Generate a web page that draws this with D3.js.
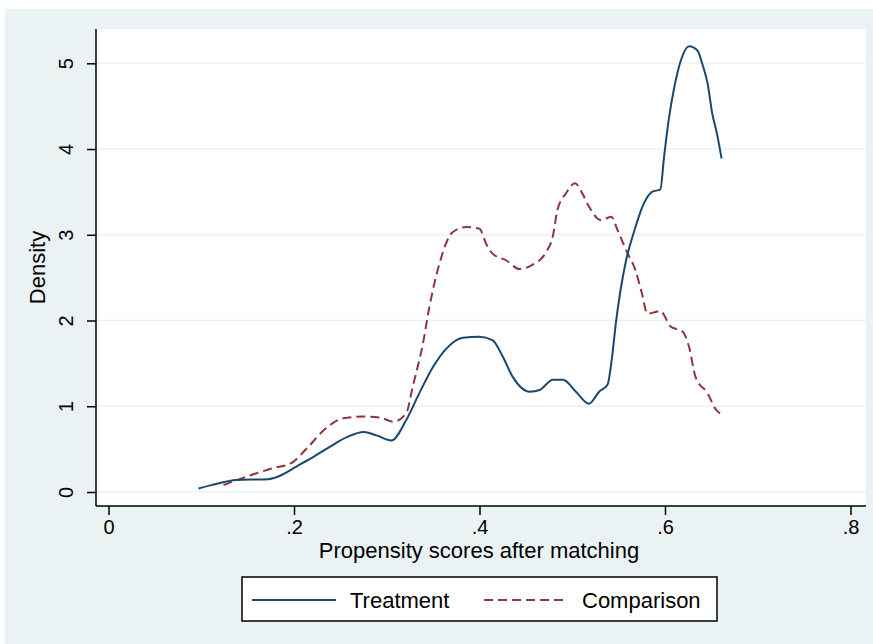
<!DOCTYPE html>
<html>
<head>
<meta charset="utf-8">
<script src="https://cdn.jsdelivr.net/npm/d3@7"></script>
<style>
  body { margin: 0; background: #fff; }
  svg { display: block; font-family: "Liberation Sans", Arial, sans-serif; }
</style>
</head>
<body>
<svg id="chart" width="873" height="644"></svg>
<script>
// propensity score (x) and kernel density (y)
const treatX = [0.097, 0.111, 0.138, 0.172, 0.185, 0.203, 0.221, 0.239, 0.257, 0.275, 0.289, 0.305,
  0.321, 0.335, 0.350, 0.364, 0.382, 0.400, 0.414, 0.425, 0.436, 0.454, 0.465, 0.479, 0.490, 0.504,
  0.518, 0.529, 0.538, 0.543, 0.547, 0.552, 0.558, 0.567, 0.577, 0.586, 0.595, 0.599, 0.604, 0.610,
  0.617, 0.626, 0.635, 0.640, 0.646, 0.651, 0.656, 0.661]
const treatY = [0.04, 0.08, 0.14, 0.15, 0.19, 0.30, 0.41, 0.53, 0.64, 0.70, 0.66, 0.60,
  0.84, 1.15, 1.46, 1.67, 1.80, 1.81, 1.77, 1.58, 1.34, 1.17, 1.19, 1.31, 1.31, 1.17,
  1.03, 1.17, 1.25, 1.58, 1.97, 2.35, 2.70, 3.05, 3.36, 3.50, 3.53, 3.91, 4.34, 4.72,
  5.03, 5.20, 5.15, 5.00, 4.76, 4.41, 4.18, 3.89]

const compX = [0.124, 0.149, 0.178, 0.196, 0.214, 0.232, 0.253, 0.275, 0.292, 0.307, 0.321, 0.328,
  0.339, 0.346, 0.357, 0.371, 0.386, 0.400, 0.407, 0.414, 0.429, 0.443, 0.457, 0.472, 0.479, 0.484,
  0.493, 0.503, 0.511, 0.518, 0.531, 0.542, 0.549, 0.558, 0.568, 0.575, 0.581, 0.595, 0.606, 0.619,
  0.626, 0.633, 0.646, 0.655, 0.662]
const compY = [0.08, 0.18, 0.28, 0.33, 0.51, 0.72, 0.86, 0.88, 0.87, 0.82, 0.92, 1.23,
  1.73, 2.16, 2.67, 3.03, 3.09, 3.07, 2.90, 2.78, 2.70, 2.60, 2.65, 2.80, 2.98, 3.29,
  3.48, 3.60, 3.48, 3.33, 3.17, 3.21, 3.05, 2.82, 2.59, 2.32, 2.08, 2.11, 1.93, 1.87,
  1.69, 1.34, 1.15, 0.96, 0.90]

const xTicks = [0, 0.2, 0.4, 0.6, 0.8]
const yTicks = [0, 1, 2, 3, 4, 5]
const seriesNames = ['Treatment', 'Comparison']

const bg = '#eaf2f3'
const colTreat = '#1a476f'
const colComp = '#90353b'

const svg = d3.select('#chart')

// plot region
const pL = 96, pR = 866, pT = 29, pB = 506

svg.append('rect').attr('x', 5).attr('y', 9).attr('width', 868).attr('height', 635).attr('fill', bg)
svg.append('rect').attr('x', pL).attr('y', pT)
  .attr('width', pR - pL).attr('height', pB - pT).attr('fill', '#fff')

const x = d3.scaleLinear().domain([0, 0.8]).range([108.5, 850.5])
const y = d3.scaleLinear().domain([0, 5]).range([492, 63.3])

// gridlines
svg.append('g').selectAll('line').data(yTicks).enter().append('line')
  .attr('x1', pL).attr('x2', pR)
  .attr('y1', d => y(d)).attr('y2', d => y(d))
  .attr('stroke', bg).attr('stroke-width', 1.5)

const fmtX = d => d === 0 ? '0' : d3.format('.1f')(d).replace(/^0/, '')

const gx = svg.append('g').attr('transform', 'translate(0,' + pB + ')')
  .call(d3.axisBottom(x).tickValues(xTicks).tickSize(9).tickPadding(5).tickFormat(fmtX))
gx.select('.domain').remove()
gx.selectAll('.tick line').attr('stroke', '#000').attr('stroke-width', 1.5)
gx.selectAll('.tick text').attr('font-size', 20).attr('font-family', null).attr('fill', '#000')

const gy = svg.append('g').attr('transform', 'translate(' + pL + ',0)')
  .call(d3.axisLeft(y).tickValues(yTicks).tickSize(9).tickFormat(d3.format('d')))
gy.select('.domain').remove()
gy.selectAll('.tick line').attr('stroke', '#000').attr('stroke-width', 1.5)
gy.selectAll('.tick text')
  .attr('font-size', 20).attr('font-family', null).attr('fill', '#000')
  .attr('x', null)
  .attr('text-anchor', 'middle')
  .attr('transform', 'translate(-30,0) rotate(-90)')
  .attr('dy', '0.35em')

// axis lines
svg.append('line').attr('x1', pL).attr('x2', pL).attr('y1', pT).attr('y2', pB)
  .attr('stroke', '#000').attr('stroke-width', 1.5)
svg.append('line').attr('x1', pL).attr('x2', pR).attr('y1', pB).attr('y2', pB)
  .attr('stroke', '#000').attr('stroke-width', 1.5)

// axis titles
svg.append('text').attr('x', 479).attr('y', 558).attr('text-anchor', 'middle')
  .attr('font-size', 22).text('Propensity scores after matching')
svg.append('text').attr('transform', 'translate(45,' + ((pT + pB) / 2) + ') rotate(-90)')
  .attr('text-anchor', 'middle').attr('font-size', 22).text('Density')

// curves
const line = d3.line().x(d => x(d[0])).y(d => y(d[1])).curve(d3.curveMonotoneX)
const treat = d3.zip(treatX, treatY)
const comp = d3.zip(compX, compY)

svg.append('path').datum(comp).attr('d', line).attr('fill', 'none')
  .attr('stroke', colComp).attr('stroke-width', 2).attr('stroke-dasharray', '9,5')
svg.append('path').datum(treat).attr('d', line).attr('fill', 'none')
  .attr('stroke', colTreat).attr('stroke-width', 2)

// legend
const lg = svg.append('g')
lg.append('rect').attr('x', 242).attr('y', 577).attr('width', 475).attr('height', 44)
  .attr('fill', '#fff').attr('stroke', '#000').attr('stroke-width', 1.5)
const items = [
  { name: seriesNames[0], color: colTreat, dash: null, x1: 252, x2: 336, tx: 350 },
  { name: seriesNames[1], color: colComp, dash: '9,5', x1: 484, x2: 568, tx: 582 }
]
items.forEach(it => {
  lg.append('line').attr('x1', it.x1).attr('x2', it.x2).attr('y1', 600).attr('y2', 600)
    .attr('stroke', it.color).attr('stroke-width', 2).attr('stroke-dasharray', it.dash)
  lg.append('text').attr('x', it.tx).attr('y', 608).attr('font-size', 22).text(it.name)
})
</script>
</body>
</html>
